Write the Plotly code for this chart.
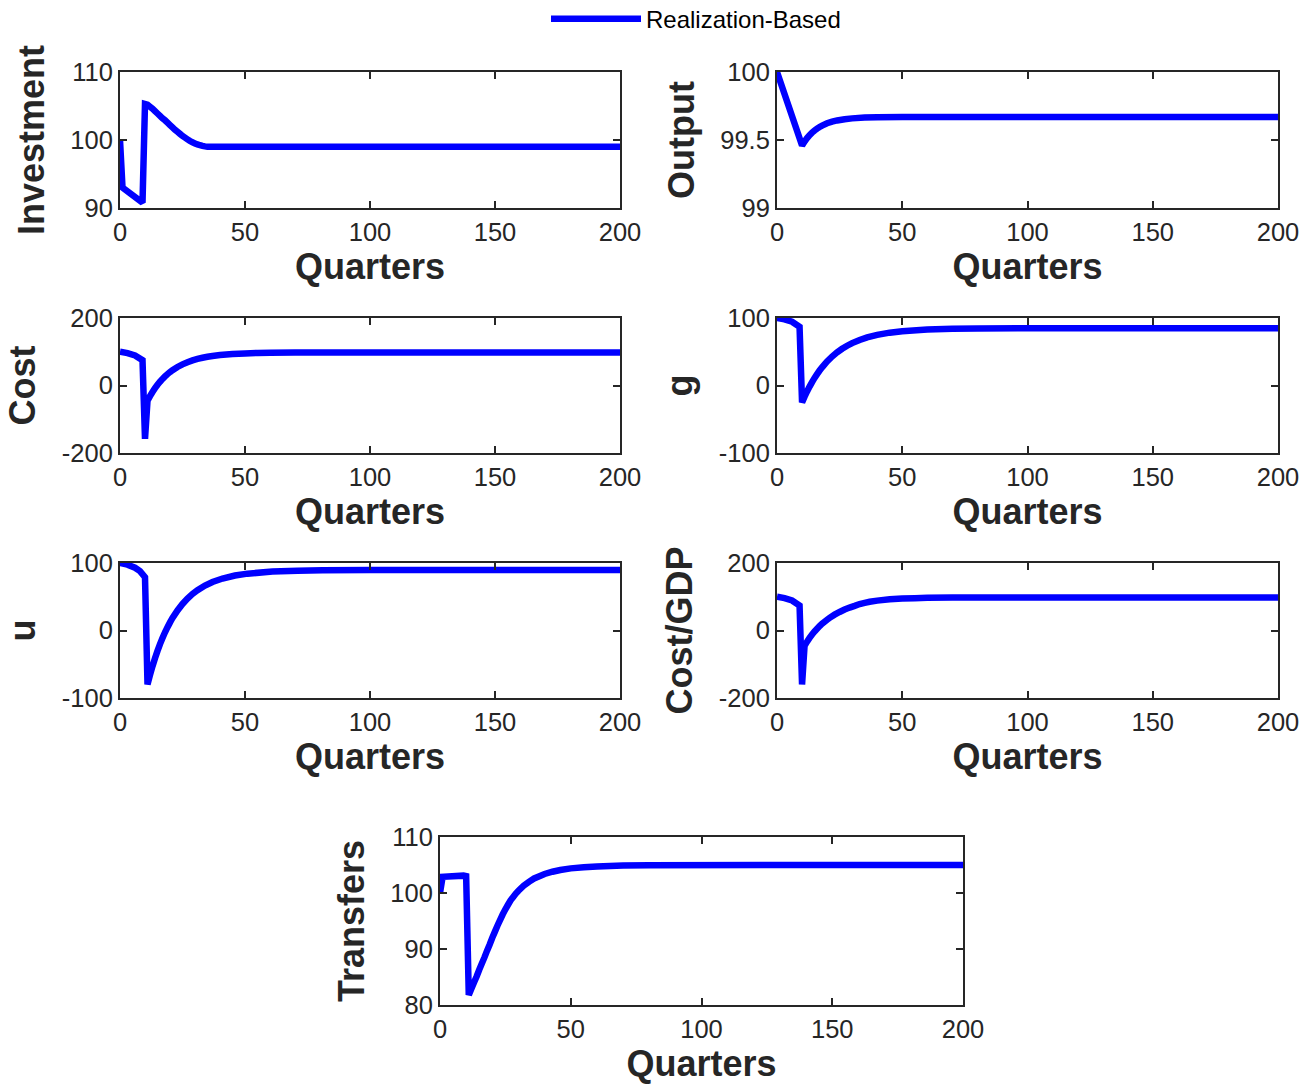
import plotly.graph_objects as go

# ---------------- data ----------------
inv_q = [0, 1, 9, 10, 11, 12, 13, 14, 15, 16, 17, 18, 19, 20, 21, 22, 23, 24, 25, 26, 27,
         28, 29, 30, 31, 32, 33, 34, 35, 36, 40, 200]
inv_v = [100, 93, 90.8, 105.3, 105.2, 104.9, 104.6, 104.25, 103.9, 103.55, 103.2, 102.9,
         102.55, 102.2, 101.85, 101.5, 101.2, 100.9, 100.6, 100.35, 100.1, 99.85, 99.65, 99.5,
         99.35, 99.23, 99.13, 99.06, 99.02, 99.0, 99.0, 99.0]

out_q = [0, 10, 11, 12, 13, 14, 15, 16, 17, 18, 20, 22, 24, 27, 30, 35, 40, 50, 200]
out_v = [100, 99.46, 99.489, 99.514, 99.536, 99.554, 99.570, 99.584, 99.596, 99.606, 99.623,
         99.635, 99.644, 99.653, 99.659, 99.665, 99.668, 99.67, 99.67]

cost_q = [0, 3, 6, 9, 10, 11, 12, 13, 14, 15, 16, 17, 18, 19, 20, 21, 23, 25, 27, 29, 31,
          33, 35, 37, 40, 45, 50, 55, 60, 70, 80, 100, 200]
cost_v = [100, 96, 89, 75, -158, -45, -31.4, -19.1, -8.0, 2.2, 11.2, 19.5, 26.9, 33.8, 39.8,
          45.4, 55.0, 62.7, 69.1, 74.4, 78.7, 82.1, 85.0, 87.4, 90.1, 93.3, 95.1, 96.3, 96.9,
          97.6, 97.9, 98, 98]

g_q = [0, 3, 6, 9, 10, 11, 12, 13, 14, 15, 16, 17, 18, 19, 20, 22, 24, 26, 28, 30, 33, 36,
       40, 45, 50, 60, 70, 80, 100, 200]
g_v = [100, 98, 94.5, 87, -25, -16.5, -8.7, -1.6, 5.1, 11.3, 16.9, 22.2, 27.0, 31.4, 35.6,
       42.9, 49.1, 54.4, 58.9, 62.8, 67.5, 71.3, 75.0, 78.3, 80.5, 83.0, 84.1, 84.6, 85, 85]

u_q = [0, 3, 6, 8, 10, 11, 12, 13, 14, 15, 16, 17, 18, 19, 20, 21, 23, 25, 27, 29, 31, 34,
       37, 41, 46, 51, 61, 71, 81, 100, 200]
u_v = [100, 97.5, 93, 88, 79, -80, -65.9, -52.9, -41.0, -30.2, -20.2, -11.2, -2.7, 4.9, 12.0,
       18.5, 29.8, 39.3, 47.3, 54.1, 59.7, 66.6, 71.9, 77.0, 81.4, 84.2, 87.3, 88.7, 89.2,
       89.5, 89.5]

cg_q = [0, 3, 6, 9, 10, 11, 12, 13, 14, 15, 16, 17, 18, 19, 20, 21, 23, 25, 27, 29, 31, 33,
        35, 37, 40, 45, 50, 55, 60, 70, 80, 100, 200]
cg_v = [100, 96, 89, 74, -160, -45, -33, -22, -12, -3, 5, 13, 20, 26, 32, 37.5, 47, 55, 62,
        68, 73, 78.5, 82, 85, 88.5, 92.3, 94.5, 95.8, 96.7, 97.5, 97.8, 98, 98]

tr_q = [0, 1, 9, 10, 11, 12, 13, 14, 15, 16, 17, 18, 19, 20, 21, 22, 23, 24, 25, 26, 27, 28,
        29, 30, 32, 34, 36, 38, 40, 43, 46, 50, 55, 60, 70, 80, 200]
tr_v = [100, 102.9, 103.1, 103.0, 81.8, 82.9, 84.0, 85.1, 86.3, 87.4, 88.5, 89.7, 90.8, 92.0,
        93.1, 94.2, 95.2, 96.2, 97.1, 97.9, 98.7, 99.3, 99.9, 100.4, 101.3, 102.0, 102.6,
        103.0, 103.4, 103.8, 104.1, 104.4, 104.6, 104.75, 104.9, 104.97, 105]

x_ticks = [0, 50, 100, 150, 200]
panels = [
    ("Investment", inv_q, inv_v, [90, 110], [90, 100, 110], ["90", "100", "110"]),
    ("Output", out_q, out_v, [99, 100], [99, 99.5, 100], ["99", "99.5", "100"]),
    ("Cost", cost_q, cost_v, [-200, 200], [-200, 0, 200], ["-200", "0", "200"]),
    ("g", g_q, g_v, [-100, 100], [-100, 0, 100], ["-100", "0", "100"]),
    ("u", u_q, u_v, [-100, 100], [-100, 0, 100], ["-100", "0", "100"]),
    ("Cost/GDP", cg_q, cg_v, [-200, 200], [-200, 0, 200], ["-200", "0", "200"]),
    ("Transfers", tr_q, tr_v, [80, 110], [80, 90, 100, 110], ["80", "90", "100", "110"]),
]

# ---------------- layout geometry ----------------
W, H = 1308, 1087
px_x = [(120, 620), (777, 1278)] * 3 + [(440, 963)]
px_y = [(72, 208)] * 2 + [(318, 453)] * 2 + [(563, 698)] * 2 + [(837, 1005)]

FONT = "Liberation Sans, Arial, Helvetica, sans-serif"
AX = "#262626"
BLUE = "#0000FF"

fig = go.Figure()
layout = dict(
    width=W, height=H,
    margin=dict(l=0, r=0, t=0, b=0, autoexpand=False),
    paper_bgcolor="white", plot_bgcolor="white",
    font=dict(family=FONT, color=AX, size=24),
    showlegend=True,
    legend=dict(
        x=546 / W, xanchor="left", y=1.003, yanchor="top",
        orientation="h", itemwidth=90,
        font=dict(family=FONT, size=24, color="black"),
        bgcolor="rgba(0,0,0,0)", borderwidth=0,
        tracegroupgap=0,
    ),
)

for i, (name, q, v, yr, yt, ytl) in enumerate(panels):
    n = "" if i == 0 else str(i + 1)
    fig.add_trace(go.Scatter(
        x=q, y=v, mode="lines",
        line=dict(color=BLUE, width=6.5, simplify=False),
        name="Realization-Based", showlegend=(i == 0),
        xaxis="x" + n, yaxis="y" + n,
    ))
    x0, x1 = px_x[i]
    y0, y1 = px_y[i]
    common = dict(
        showline=True, linecolor=AX, linewidth=2, mirror="ticks",
        ticks="inside", ticklen=7, tickwidth=2, tickcolor=AX,
        showgrid=False, zeroline=False, automargin=False,
        tickfont=dict(family=FONT, size=25.5, color=AX),
    )
    layout["xaxis" + n] = dict(
        common, domain=[x0 / W, x1 / W], anchor="y" + n,
        range=[0, 200], tickvals=x_ticks, ticktext=[str(t) for t in x_ticks],
        title=dict(text="<b>Quarters</b>", font=dict(family=FONT, size=36, color=AX), standoff=7),
    )
    layout["yaxis" + n] = dict(
        common, domain=[1 - y1 / H, 1 - y0 / H], anchor="x" + n,
        range=yr, tickvals=yt, ticktext=ytl,
        title=dict(text="<b>" + name + "</b>", font=dict(family=FONT, size=36, color=AX), standoff=15),
    )

fig.update_layout(**layout)
fig.write_html("out.html")
